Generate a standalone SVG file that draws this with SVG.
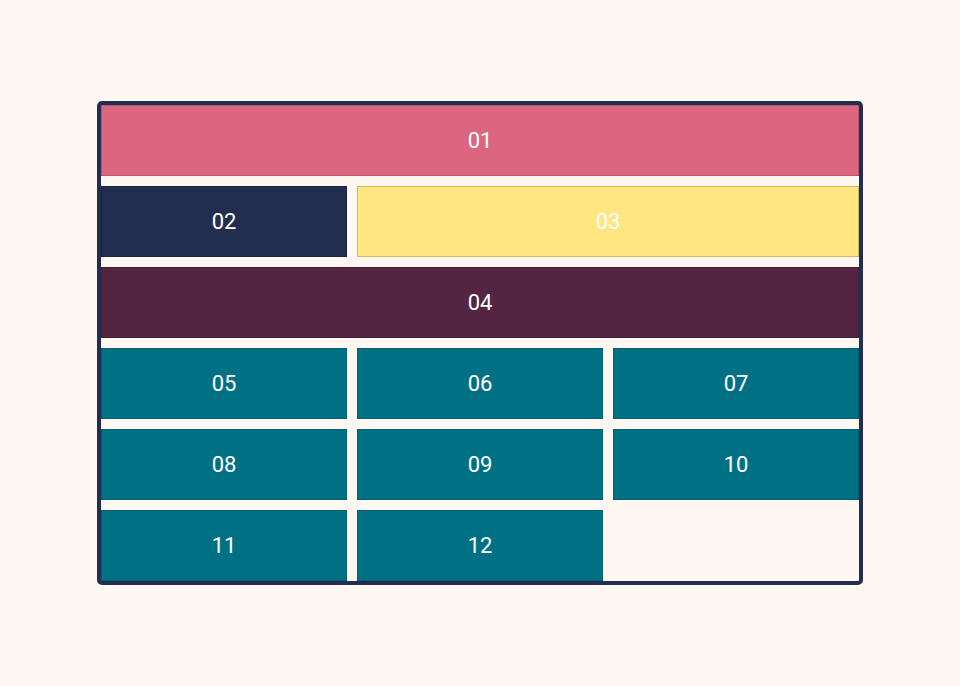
<svg xmlns="http://www.w3.org/2000/svg" width="960" height="686" viewBox="0 0 960 686">
<style>
.b{stroke-width:1}
.t{font-family:Roboto,"Liberation Sans",sans-serif;font-size:22px;fill:#ffffff;text-anchor:middle;dominant-baseline:central}
.teal{fill:#007085;stroke:#055e6e}
</style>
<rect x="0" y="0" width="960" height="686" fill="#fff7f1"/>
<g id="n01"><rect class="b" x="101.5" y="105.5" width="757" height="70" fill="#dc667f" stroke="#c0566e"/><text class="t" x="480" y="140.5">01</text></g>
<g id="n02"><rect class="b" x="101.5" y="186.5" width="245" height="70" fill="#212e50" stroke="#1a2541"/><text class="t" x="224" y="221.5">02</text></g>
<g id="n03"><rect class="b" x="357.5" y="186.5" width="501" height="70" fill="#ffe680" stroke="#d2bb5f"/><text class="t" x="608" y="221.5">03</text></g>
<g id="n04"><rect class="b" x="101.5" y="267.5" width="757" height="70" fill="#542543" stroke="#461d37"/><text class="t" x="480" y="302.5">04</text></g>
<g id="n05"><rect class="b teal" x="101.5" y="348.5" width="245" height="70"/><text class="t" x="224" y="383.5">05</text></g>
<g id="n06"><rect class="b teal" x="357.5" y="348.5" width="245" height="70"/><text class="t" x="480" y="383.5">06</text></g>
<g id="n07"><rect class="b teal" x="613.5" y="348.5" width="245" height="70"/><text class="t" x="736" y="383.5">07</text></g>
<g id="n08"><rect class="b teal" x="101.5" y="429.5" width="245" height="70"/><text class="t" x="224" y="464.5">08</text></g>
<g id="n09"><rect class="b teal" x="357.5" y="429.5" width="245" height="70"/><text class="t" x="480" y="464.5">09</text></g>
<g id="n10"><rect class="b teal" x="613.5" y="429.5" width="245" height="70"/><text class="t" x="736" y="464.5">10</text></g>
<g id="n11"><rect class="b teal" x="101.5" y="510.5" width="245" height="70"/><text class="t" x="224" y="545.5">11</text></g>
<g id="n12"><rect class="b teal" x="357.5" y="510.5" width="245" height="70"/><text class="t" x="480" y="545.5">12</text></g>
<g id="frame"><rect x="99" y="103" width="762" height="480" rx="3" fill="none" stroke="#212e50" stroke-width="4"/></g>
<g id="connectors"></g>
</svg>
